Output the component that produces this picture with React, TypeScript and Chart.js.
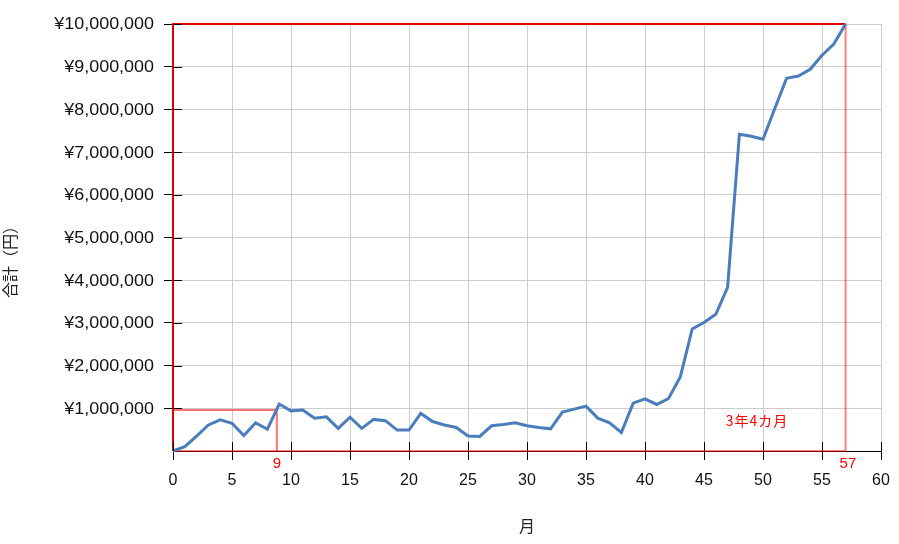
import React, { useEffect, useRef } from "react";
import { Chart, registerables } from "chart.js";

Chart.register(...registerables);

// Monthly cumulative totals (yen), month 0..57
const totals: number[] = [
  0, 100000, 350000, 610000, 730000, 650000, 360000, 660000, 510000, 1100000,
  940000, 960000, 770000, 800000, 530000, 790000, 530000, 740000, 710000, 490000,
  490000, 880000, 690000, 610000, 550000, 350000, 340000, 590000, 620000, 660000,
  590000, 550000, 520000, 910000, 980000, 1050000, 770000, 660000, 430000, 1120000,
  1220000, 1090000, 1230000, 1740000, 2860000, 3010000, 3200000, 3830000, 7420000, 7370000,
  7300000, 8020000, 8730000, 8780000, 8940000, 9270000, 9530000, 10000000,
];

// Annotation outlines (data units)
const bigRectDark = [
  { x: 0, y: 0 },
  { x: 0, y: 10000000 },
  { x: 57, y: 10000000 },
];
const bigRectLight = [
  { x: 57, y: 10000000 },
  { x: 57, y: 0 },
  { x: 0, y: 0 },
];
const smallRect = [
  { x: 0, y: 960000 },
  { x: 8.8, y: 960000 },
  { x: 8.8, y: 0 },
];

// Annotation labels
const markLabels = [
  { text: "9", x: 8.8 },
  { text: "57", x: 57.2 },
];
const periodLabel = { text: "3年4カ月", x: 49.5, y: 710000 };

const xTitle = "月";
const yTitle = "合計（円）";

const FONT = "'Liberation Sans', Arial, sans-serif";
const CJK = "'Noto Sans CJK JP'";

const fmtYen = (v: number) => "¥" + Number(v).toLocaleString("en-US");

const overlay = {
  id: "overlay",
  afterDatasetsDraw(chart: any) {
    const { ctx, chartArea, scales } = chart;
    const xs = scales.x;
    const ys = scales.y;
    ctx.save();
    // inner halves of tick marks
    ctx.strokeStyle = "#000";
    ctx.lineWidth = 1;
    xs.ticks.forEach((t: any) => {
      const px = Math.round(xs.getPixelForValue(t.value)) + 0.5;
      ctx.beginPath();
      ctx.moveTo(px, chartArea.bottom - 9);
      ctx.lineTo(px, chartArea.bottom);
      ctx.stroke();
    });
    ys.ticks.forEach((t: any) => {
      if (t.value === 0) return;
      const py = Math.round(ys.getPixelForValue(t.value)) + 0.5;
      ctx.beginPath();
      ctx.moveTo(chartArea.left, py);
      ctx.lineTo(chartArea.left + 9, py);
      ctx.stroke();
    });
    // y tick labels (skip zero), slightly widened like the reference
    ctx.fillStyle = "#111";
    ctx.font = `16px ${FONT}`;
    ctx.textAlign = "right";
    ctx.textBaseline = "middle";
    ys.ticks.forEach((t: any) => {
      if (t.value === 0) return;
      ctx.save();
      ctx.translate(chartArea.left - 19, ys.getPixelForValue(t.value) + 1);
      ctx.scale(1.12, 1);
      ctx.fillText(fmtYen(t.value), 0, 0);
      ctx.restore();
    });
    // red labels
    ctx.fillStyle = "#ff0000";
    ctx.font = `15px ${FONT}`;
    ctx.textAlign = "center";
    markLabels.forEach((l) => {
      ctx.fillText(l.text, xs.getPixelForValue(l.x), chartArea.bottom + 13);
    });
    ctx.font = `14px ${CJK}, ${FONT}`;
    (ctx as any).letterSpacing = "1px";
    ctx.fillText(
      periodLabel.text,
      xs.getPixelForValue(periodLabel.x),
      ys.getPixelForValue(periodLabel.y)
    );
    (ctx as any).letterSpacing = "0px";
    // axis titles
    ctx.fillStyle = "#222";
    ctx.font = `16px ${CJK}, ${FONT}`;
    ctx.fillText(xTitle, (chartArea.left + chartArea.right) / 2, 526);
    ctx.translate(10, 258);
    ctx.rotate(-Math.PI / 2);
    ctx.fillText(yTitle, 0, 0);
    ctx.restore();
  },
};

export default function App() {
  const ref = useRef<HTMLCanvasElement | null>(null);
  useEffect(() => {
    if (!ref.current) return;
    const chart = new Chart(ref.current, {
      type: "line",
      data: {
        datasets: [
          {
            data: totals.map((v, i) => ({ x: i, y: v })),
            borderColor: "#4a7ebb",
            borderWidth: 3,
            pointRadius: 0,
            tension: 0,
            order: 0,
            clip: 4,
          },
          {
            data: smallRect,
            borderColor: "rgba(255,0,0,0.55)",
            borderWidth: 2,
            pointRadius: 0,
            order: 1,
            clip: 4,
          },
          {
            data: bigRectLight,
            borderColor: "rgba(255,0,0,0.5)",
            borderWidth: 2,
            pointRadius: 0,
            order: 2,
            clip: 4,
          },
          {
            data: bigRectDark,
            borderColor: "#e00000",
            borderWidth: 2,
            pointRadius: 0,
            order: 3,
            clip: 4,
          },
        ],
      },
      options: {
        animation: false,
        responsive: false,
        layout: { padding: { left: 0, right: 18, top: 24, bottom: 0 } },
        plugins: { legend: { display: false }, tooltip: { enabled: false } },
        scales: {
          x: {
            type: "linear",
            min: 0,
            max: 60,
            afterFit: (s: any) => {
              s.height = 93;
              s.paddingLeft = 0;
              s.paddingRight = 0;
            },
            ticks: {
              stepSize: 5,
              color: "#111",
              padding: 11,
              maxRotation: 0,
              font: { family: FONT, size: 16 },
            },
            grid: {
              color: "#cccccc",
              lineWidth: 1,
              tickLength: 9,
              tickColor: "#000",
            },
            border: { color: "#000", width: 1 },
          },
          y: {
            type: "linear",
            min: 0,
            max: 10000000,
            afterFit: (s: any) => {
              s.width = 173;
              s.paddingTop = 0;
              s.paddingBottom = 0;
            },
            ticks: {
              stepSize: 1000000,
              display: false,
            },
            grid: {
              color: "#cccccc",
              lineWidth: 1,
              tickLength: 9,
              tickColor: (c: any) => (c.tick && c.tick.value === 0 ? "rgba(0,0,0,0)" : "#000"),
            },
            border: { color: "#000", width: 1 },
          },
        },
      },
      plugins: [overlay],
    });
    return () => chart.destroy();
  }, []);
  return (
    <div style={{ position: "absolute", left: 0, top: 0, width: 899, height: 544, background: "#fff" }}>
      <canvas ref={ref} width={899} height={544} style={{ display: "block" }} />
    </div>
  );
}
